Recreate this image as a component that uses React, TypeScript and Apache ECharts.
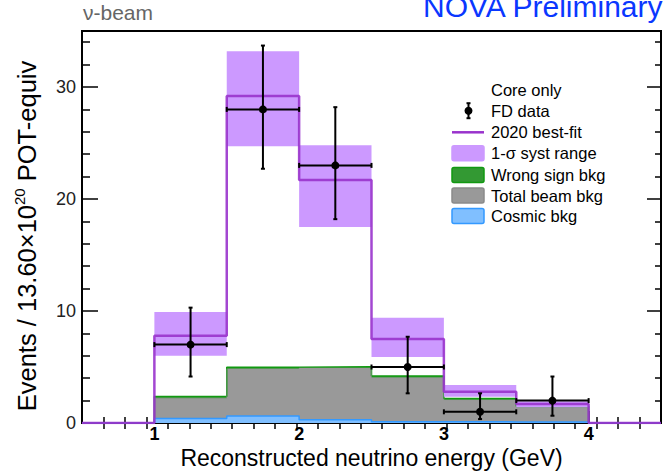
import React, { useEffect, useRef } from "react";
import * as echarts from "echarts";

const FONT = '"Liberation Sans", Arial, Helvetica, sans-serif';

// Histogram bin edges (GeV)
const binEdges = [0.5, 1, 1.5, 2, 2.5, 3, 3.5, 4, 4.5];
// 2020 best-fit prediction per bin
const bestFit = [0, 7.8, 29.2, 21.7, 7.5, 2.8, 1.7, 0];
// 1-sigma systematic range per bin
const systLow = [0, 6.0, 24.7, 17.5, 5.9, 2.35, 1.4, 0];
const systHigh = [0, 9.9, 33.2, 24.8, 9.4, 3.4, 1.95, 0];
// Backgrounds per bin
const totalBeamBkg = [0, 2.22, 4.83, 4.9, 4.05, 2.05, 1.38, 0];
const wrongSignBkg = [0, 0.14, 0.14, 0.13, 0.15, 0.13, 0.12, 0];
const cosmicBkg = [0, 0.4, 0.62, 0.28, 0.12, 0.1, 0.1, 0];
// FD data points
const fdEnergy = [1.25, 1.75, 2.25, 2.75, 3.25, 3.75];
const fdCounts = [7, 28, 23, 5, 1, 2];
const fdErrUp = [10.3, 33.7, 28.2, 7.7, 2.65, 4.15];
const fdErrDown = [4.15, 22.7, 18.2, 2.65, 0.35, 0.65];
const fdHalfWidth = [0.25, 0.25, 0.25, 0.25, 0.25, 0.25];
// Axis ticks
const xLabelTicks = [1, 2, 3, 4];
const xHalfTicks = [1.5, 2.5, 3.5];
const xMinorTicks = [
  0.648, 0.796, 0.944, 1.093, 1.241, 1.389, 1.537, 1.685, 1.833, 1.981, 2.13,
  2.278, 2.426, 2.574, 2.722, 2.87, 3.019, 3.167, 3.315, 3.463, 3.611, 3.759,
  3.907, 4.056, 4.204, 4.352,
];
const yLabelTicks = [0, 10, 20, 30];
const yMinorTicks = [2, 4, 6, 8, 12, 14, 16, 18, 22, 24, 26, 28, 32, 34];

const stepData = (vals: number[]) => {
  const pts = vals.map((v, i) => [binEdges[i], v]);
  pts.push([binEdges[vals.length], vals[vals.length - 1]]);
  return pts;
};

// wrong-sign background stacked on top of the total beam background
const wrongSignStacked = totalBeamBkg.map((v, i) => v + wrongSignBkg[i]);

const COL = {
  syst: "#cc99ff",
  fit: "#9933cc",
  wsFill: "#339933",
  wsLine: "#119911",
  beam: "#999999",
  cosFill: "#80bfff",
  cosLine: "#3399ff",
};

export default function App() {
  const ref = useRef<HTMLDivElement>(null);

  useEffect(() => {
    if (!ref.current) return;
    const chart = echarts.init(ref.current, null, { renderer: "svg" });

    const tickStyle = { color: "#000", width: 1.5 };
    const xBase = {
      type: "value",
      min: 0.5,
      max: 4.5,
      splitLine: { show: false },
      axisLine: { show: false },
    };
    const yBase = {
      type: "value",
      min: 0,
      max: 35,
      splitLine: { show: false },
      axisLine: { show: false },
    };

    const legendRows = [110.7, 132.3, 153.3, 175, 195.5, 216];
    const boxX = 452;
    const boxW = 32;
    const boxH = 15;
    const textX = 491;
    const legendText = (t: string, y: number) => ({
      type: "text",
      x: textX,
      y,
      style: {
        text: t,
        font: `16.5px ${FONT}`,
        fill: "#000",
        verticalAlign: "middle",
        align: "left",
      },
    });
    const legendBox = (y: number, fill: string, stroke: string) => ({
      type: "rect",
      shape: { x: boxX, y: y - boxH / 2, width: boxW, height: boxH, r: 2 },
      style: { fill, stroke, lineWidth: 1.5 },
    });
    const fdX = 468.5;
    const fdY = legendRows[0];

    const option = {
      animation: false,
      backgroundColor: "#fff",
      grid: {
        left: 82,
        top: 31,
        right: 2,
        bottom: 48,
        outerBoundsMode: "none",
        containLabel: false,
        show: true,
        borderColor: "#000",
        borderWidth: 2,
        backgroundColor: "transparent",
      },
      xAxis: [
        {
          ...xBase,
          position: "bottom",
          axisTick: { inside: true, length: 12, customValues: xLabelTicks, lineStyle: tickStyle },
          axisLabel: {
            customValues: xLabelTicks,
            fontSize: 18,
            fontWeight: "bold",
            color: "#000",
            fontFamily: FONT,
            margin: 2,
          },
          name: "Reconstructed neutrino energy (GeV)",
          nameLocation: "middle",
          nameGap: 23.5,
          nameMoveOverlap: false,
          nameTextStyle: { fontSize: 23, color: "#000", fontFamily: FONT },
        },
        {
          ...xBase,
          position: "bottom",
          axisTick: { inside: true, length: 7, customValues: xHalfTicks, lineStyle: tickStyle },
          axisLabel: { show: false },
        },
        {
          ...xBase,
          position: "bottom",
          axisTick: { inside: true, length: 6, customValues: xMinorTicks, lineStyle: tickStyle },
          axisLabel: { show: false },
        },
        {
          ...xBase,
          position: "top",
          axisTick: { inside: true, length: 6, customValues: xMinorTicks, lineStyle: tickStyle },
          axisLabel: { show: false },
        },
      ],
      yAxis: [
        {
          ...yBase,
          position: "left",
          axisTick: { inside: true, length: 16, customValues: yLabelTicks, lineStyle: tickStyle },
          axisLabel: {
            customValues: yLabelTicks,
            fontSize: 18,
            color: "#222",
            fontFamily: FONT,
            margin: 6,
          },
        },
        {
          ...yBase,
          position: "left",
          axisTick: { inside: true, length: 8, customValues: yMinorTicks, lineStyle: tickStyle },
          axisLabel: { show: false },
        },
        {
          ...yBase,
          position: "right",
          axisTick: { inside: true, length: 14, customValues: yLabelTicks, lineStyle: tickStyle },
          axisLabel: { show: false },
        },
        {
          ...yBase,
          position: "right",
          axisTick: { inside: true, length: 6, customValues: yMinorTicks, lineStyle: tickStyle },
          axisLabel: { show: false },
        },
      ],
      series: [
        {
          name: "Wrong sign bkg",
          type: "line",
          step: "end",
          data: stepData(wrongSignStacked),
          symbol: "none",
          lineStyle: { color: COL.wsLine, width: 1.5 },
          areaStyle: { color: COL.wsFill, opacity: 1 },
          z: 1,
        },
        {
          name: "Total beam bkg",
          type: "line",
          step: "end",
          data: stepData(totalBeamBkg),
          symbol: "none",
          lineStyle: { color: COL.beam, width: 0.5 },
          areaStyle: { color: COL.beam, opacity: 1 },
          z: 1,
        },
        {
          name: "Cosmic bkg",
          type: "line",
          step: "end",
          data: stepData(cosmicBkg),
          symbol: "none",
          lineStyle: { color: COL.cosLine, width: 1.5 },
          areaStyle: { color: COL.cosFill, opacity: 1 },
          z: 2,
        },
        {
          name: "1-σ syst range",
          type: "custom",
          z: 3,
          clip: true,
          data: systLow.map((lo, i) => [binEdges[i], binEdges[i + 1], lo, systHigh[i]]),
          encode: { x: [0, 1], y: [2, 3] },
          renderItem: (params: any, api: any) => {
            const x0 = api.value(0);
            const x1 = api.value(1);
            const lo = api.value(2);
            const hi = api.value(3);
            if (hi <= lo) return null;
            const p0 = api.coord([x0, hi]);
            const p1 = api.coord([x1, lo]);
            return {
              type: "rect",
              shape: { x: p0[0], y: p0[1], width: p1[0] - p0[0], height: p1[1] - p0[1] },
              style: { fill: COL.syst },
            };
          },
        },
        {
          name: "2020 best-fit",
          type: "line",
          step: "end",
          data: stepData(bestFit),
          symbol: "none",
          lineStyle: { color: COL.fit, width: 2.5, opacity: 0.9 },
          z: 4,
        },
        {
          name: "FD data",
          type: "custom",
          z: 5,
          data: fdEnergy.map((x, i) => [x, fdCounts[i], fdErrDown[i], fdErrUp[i], fdHalfWidth[i]]),
          encode: { x: 0, y: 1 },
          renderItem: (params: any, api: any) => {
            const x = api.value(0);
            const y = api.value(1);
            const lo = api.value(2);
            const hi = api.value(3);
            const hw = api.value(4);
            const c = api.coord([x, y]);
            const pl = api.coord([x - hw, y]);
            const pr = api.coord([x + hw, y]);
            const pt = api.coord([x, hi]);
            const pb = api.coord([x, lo]);
            const st = { stroke: "#000", lineWidth: 2 };
            const ln = (x1: number, y1: number, x2: number, y2: number) => ({
              type: "line",
              shape: { x1, y1, x2, y2 },
              style: st,
            });
            return {
              type: "group",
              children: [
                ln(pl[0], pl[1], pr[0], pr[1]),
                ln(pl[0], pl[1] - 2.5, pl[0], pl[1] + 2.5),
                ln(pr[0], pr[1] - 2.5, pr[0], pr[1] + 2.5),
                ln(pt[0], pt[1], pb[0], pb[1]),
                ln(pt[0] - 2, pt[1], pt[0] + 2, pt[1]),
                ln(pb[0] - 2, pb[1], pb[0] + 2, pb[1]),
                { type: "circle", shape: { cx: c[0], cy: c[1], r: 4 }, style: { fill: "#000" } },
              ],
            };
          },
        },
      ],
      graphic: [
        {
          type: "text",
          x: 423,
          y: 6.5,
          style: {
            text: "NOVA Preliminary",
            font: `30px ${FONT}`,
            fill: "#0a37ff",
            verticalAlign: "middle",
            align: "left",
          },
        },
        {
          type: "text",
          x: 83,
          y: 12,
          style: {
            text: "ν-beam",
            font: `21px ${FONT}`,
            fill: "#666",
            verticalAlign: "middle",
            align: "left",
          },
        },
        {
          type: "text",
          x: 27,
          y: 236,
          rotation: Math.PI / 2,
          style: {
            text: "{b|Events / 13.60×10}{s|20}{b| POT-equiv}",
            align: "center",
            verticalAlign: "middle",
            fill: "#000",
            rich: {
              b: { fontSize: 25.5, fontFamily: FONT, lineHeight: 30, fill: "#000" },
              s: { fontSize: 15, fontFamily: FONT, lineHeight: 15, verticalAlign: "top", fill: "#000" },
            },
          },
        },
        legendText("Core only", 90),
        { type: "line", shape: { x1: fdX, y1: fdY - 7.5, x2: fdX, y2: fdY + 7.5 }, style: { stroke: "#000", lineWidth: 2 } },
        { type: "line", shape: { x1: fdX - 2, y1: fdY - 7.5, x2: fdX + 2, y2: fdY - 7.5 }, style: { stroke: "#000", lineWidth: 2 } },
        { type: "line", shape: { x1: fdX - 2, y1: fdY + 7.5, x2: fdX + 2, y2: fdY + 7.5 }, style: { stroke: "#000", lineWidth: 2 } },
        { type: "circle", shape: { cx: fdX, cy: fdY, r: 4 }, style: { fill: "#000" } },
        legendText("FD data", legendRows[0]),
        { type: "line", shape: { x1: boxX, y1: legendRows[1], x2: boxX + boxW, y2: legendRows[1] }, style: { stroke: COL.fit, lineWidth: 2.5 } },
        legendText("2020 best-fit", legendRows[1]),
        legendBox(legendRows[2], COL.syst, COL.syst),
        legendText("1-σ syst range", legendRows[2]),
        legendBox(legendRows[3], COL.wsFill, COL.wsLine),
        legendText("Wrong sign bkg", legendRows[3]),
        legendBox(legendRows[4], COL.beam, "#8a8a8a"),
        legendText("Total beam bkg", legendRows[4]),
        legendBox(legendRows[5], COL.cosFill, COL.cosLine),
        legendText("Cosmic bkg", legendRows[5]),
      ],
    };

    chart.setOption(option as any);
    return () => chart.dispose();
  }, []);

  return (
    <div
      ref={ref}
      style={{ position: "fixed", left: 0, top: 0, width: 663, height: 471, background: "#fff" }}
    />
  );
}
